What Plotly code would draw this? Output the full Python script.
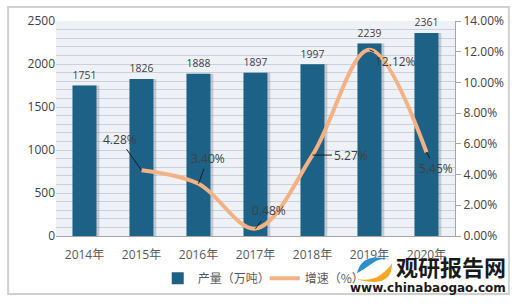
import plotly.graph_objects as go

years = ["2014年", "2015年", "2016年", "2017年", "2018年", "2019年", "2020年"]
output = [1751, 1826, 1888, 1897, 1997, 2239, 2361]
growth_years = ["2015年", "2016年", "2017年", "2018年", "2019年", "2020年"]
growth = [4.28, 3.40, 0.48, 5.27, 12.12, 5.45]
growth_labels = ["4.28%", "3.40%", "0.48%", "5.27%", "12.12%", "5.45%"]
label_offsets = [(-22, -31), (9, -25), (13, -18), (38, 0), (26, 12), (9, 16)]

FONT = "Open Sans, Noto Sans CJK SC, sans-serif"
CJK = "Noto Sans CJK SC, sans-serif"

fig = go.Figure()
# soft shadow behind bars
fig.add_trace(go.Bar(
    x=years, y=output, showlegend=False, hoverinfo="skip",
    marker=dict(color="rgba(120,130,140,0.35)", line=dict(width=0)),
    width=0.47, offset=-0.21,
))
fig.add_trace(go.Bar(
    x=years, y=output, name="产量（万吨）",
    marker=dict(color="#1d6286", line=dict(width=0)),
    width=0.42, offset=-0.21,
    text=[str(v) for v in output], textposition="outside",
    textfont=dict(size=12, color="#404040", family=FONT),
    cliponaxis=False,
))
fig.add_trace(go.Scatter(
    x=growth_years, y=growth, name="增速（%）", yaxis="y2",
    mode="lines", line=dict(color="#f4b183", width=4, shape="spline", smoothing=1.0),
))

for xv, yv, lab, (ax, ay) in zip(growth_years, growth, growth_labels, label_offsets):
    fig.add_annotation(
        x=xv, y=yv, yref="y2", text=lab, showarrow=True, arrowhead=0,
        arrowwidth=1, arrowcolor="#1a1a1a", ax=ax, ay=ay, standoff=0,
        font=dict(size=12, color="#404040", family=FONT),
    )

# watermark
fig.add_annotation(xref="paper", yref="paper", x=1.133, y=-0.14, text="<b>观研报告网</b>",
                   showarrow=False, xanchor="right", yanchor="middle",
                   font=dict(size=22, color="#1a1a1a", family=CJK))
fig.add_annotation(xref="paper", yref="paper", x=1.133, y=-0.242, text="<b>www.chinabaogao.com</b>",
                   showarrow=False, xanchor="right", yanchor="middle",
                   font=dict(size=12, color="#1a1a1a", family="DejaVu Sans, sans-serif"))

# logo swirl (pixel-based paper coordinates)
def px(x):
    return (x - 56) / 399
def py(y):
    return (238 - y) / 219

blue = "M {},{} Q {},{} {},{} Q {},{} {},{} Q {},{} {},{} Z".format(
    px(357), py(276), px(362), py(254), px(390), py(262),
    px(380), py(260), px(372), py(266),
    px(364), py(272), px(357), py(276))
orange = "M {},{} Q {},{} {},{} Q {},{} {},{} Q {},{} {},{} Z".format(
    px(392), py(266), px(392), py(292), px(357), py(282),
    px(372), py(284), px(380), py(278),
    px(388), py(272), px(392), py(266))

shapes = [
    dict(type="rect", xref="paper", yref="paper", x0=-0.12, x1=1.135, y0=-0.27, y1=1.065,
         line=dict(color="#d0d0d0", width=2), layer="below"),
    dict(type="path", xref="paper", yref="paper", path=blue,
         fillcolor="#2b8fc9", line=dict(width=0)),
    dict(type="path", xref="paper", yref="paper", path=orange,
         fillcolor="#f5a623", line=dict(width=0)),
]

fig.update_layout(
    width=517, height=305,
    margin=dict(l=56, r=62, t=19, b=67),
    paper_bgcolor="white", plot_bgcolor="#eef2f7",
    font=dict(family=FONT, size=12, color="#595959"),
    barmode="overlay",
    showlegend=True,
    legend=dict(orientation="h", x=0.255, y=-0.197, xanchor="left", yanchor="middle",
                font=dict(size=12, color="#595959", family=CJK),
                bgcolor="rgba(255,255,255,0)", entrywidth=62, entrywidthmode="pixels"),
    xaxis=dict(showline=True, linecolor="#a6a6a6", linewidth=1, ticks="",
               tickfont=dict(size=12, color="#595959"), showgrid=False,
               ticklabelstandoff=8),
    yaxis=dict(range=[0, 2500], dtick=500, showgrid=True, gridcolor="#c9d2dc",
               minor=dict(dtick=100, showgrid=True, gridcolor="#c9d2dc"),
               zeroline=False, showline=False, ticks="",
               tickfont=dict(size=12, color="#404040")),
    yaxis2=dict(range=[0, 14], dtick=2, overlaying="y", side="right",
                tickformat=".2f", ticksuffix="%", showgrid=False, zeroline=False,
                showline=True, linecolor="#a6a6a6", ticks="outside", ticklen=5,
                tickcolor="#a6a6a6", tickfont=dict(size=12, color="#404040")),
    shapes=shapes,
)

fig.write_html("out.html")
